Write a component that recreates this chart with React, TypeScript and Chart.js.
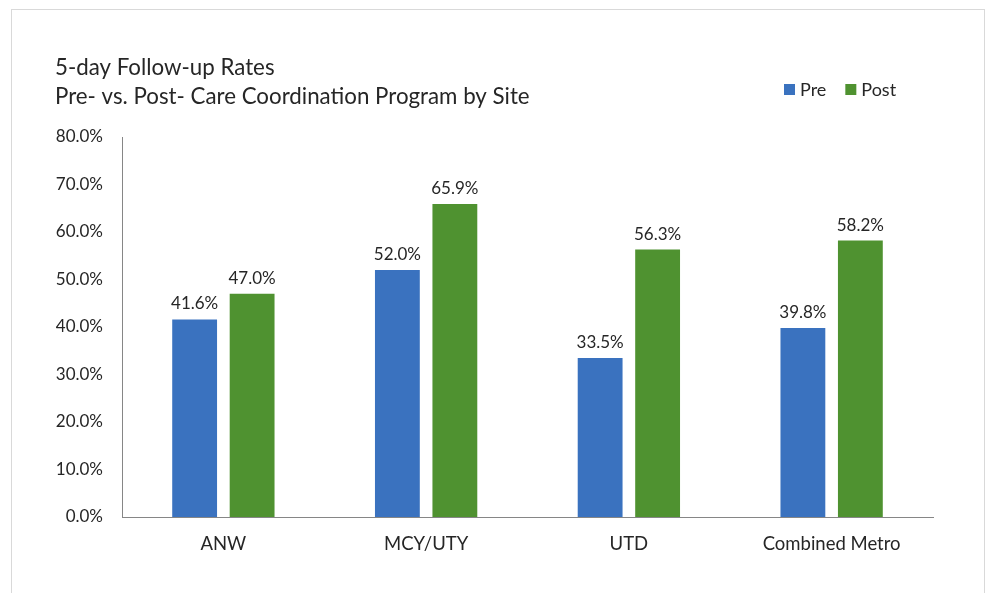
import React, { useEffect, useRef } from "react";
import { Chart, registerables } from "chart.js";

Chart.register(...registerables);

const categories = ["ANW", "MCY/UTY", "UTD", "Combined Metro"];
const preValues = [41.6, 52.0, 33.5, 39.8];
const postValues = [47.0, 65.9, 56.3, 58.2];
const seriesLabels = ["Pre", "Post"];
const titleLines = ["5-day Follow-up Rates", "Pre- vs. Post- Care Coordination Program by Site"];

const FONT = "Lato, 'Noto Sans', sans-serif";
const TEXT = "#262626";

const overlayPlugin = {
  id: "overlay",
  afterDatasetsDraw(chart: any) {
    const ctx = chart.ctx;
    ctx.save();
    // data labels
    ctx.font = `17px ${FONT}`;
    ctx.fillStyle = TEXT;
    ctx.textAlign = "center";
    ctx.textBaseline = "bottom";
    chart.data.datasets.forEach((ds: any, di: number) => {
      const meta = chart.getDatasetMeta(di);
      meta.data.forEach((el: any, i: number) => {
        ctx.fillText(ds.data[i].toFixed(1) + "%", el.x, el.y - 7);
      });
    });
    // title
    ctx.textAlign = "left";
    ctx.textBaseline = "middle";
    ctx.font = `22.3px ${FONT}`;
    ctx.fillText(titleLines[0], 55, 68);
    ctx.fillText(titleLines[1], 55, 97);
    // legend
    ctx.font = `18px ${FONT}`;
    let x = 784;
    chart.data.datasets.forEach((ds: any) => {
      ctx.fillStyle = ds.backgroundColor;
      ctx.fillRect(x, 84, 11, 11);
      ctx.fillStyle = TEXT;
      ctx.fillText(ds.label, x + 16, 90);
      x += 16 + ctx.measureText(ds.label).width + 19;
    });
    ctx.restore();
  },
};

export default function App() {
  const ref = useRef<HTMLCanvasElement>(null);
  useEffect(() => {
    const chart = new Chart(ref.current!, {
      type: "bar",
      data: {
        labels: categories,
        datasets: [
          { label: seriesLabels[0], data: preValues, backgroundColor: "#3A72BF" },
          { label: seriesLabels[1], data: postValues, backgroundColor: "#4F9230" },
        ],
      },
      options: {
        animation: false,
        responsive: false,
        maintainAspectRatio: false,
        layout: { padding: { top: 137, right: 59, left: 0, bottom: 0 } },
        datasets: { bar: { categoryPercentage: 0.567, barPercentage: 0.78 } },
        plugins: { legend: { display: false }, title: { display: false }, tooltip: { enabled: false } },
        scales: {
          x: {
            grid: { display: false, drawTicks: false },
            border: { display: true, color: "#868686", width: 1 },
            ticks: { color: TEXT, font: { family: FONT, size: 18.5 }, padding: 16 },
            afterFit: (s: any) => { s.height = 76; },
          },
          y: {
            min: 0,
            max: 80,
            grid: { display: false, drawTicks: false },
            border: { display: true, color: "#868686", width: 1 },
            ticks: {
              stepSize: 10,
              color: TEXT,
              font: { family: FONT, size: 17 },
              padding: 19,
              callback: (v: any) => Number(v).toFixed(1) + "%",
            },
            afterFit: (s: any) => { s.width = 122; },
          },
        },
      },
      plugins: [overlayPlugin],
    });
    return () => chart.destroy();
  }, []);
  return (
    <div style={{ position: "fixed", left: 0, top: 0, width: 992, height: 593, background: "#fff", overflow: "hidden" }}>
      <div style={{ position: "absolute", left: 11, top: 9, width: 974, height: 640, border: "1px solid #d9d9d9", boxSizing: "border-box" }} />
      <canvas ref={ref} width={992} height={593} style={{ position: "absolute", left: 0, top: 0 }} />
    </div>
  );
}
